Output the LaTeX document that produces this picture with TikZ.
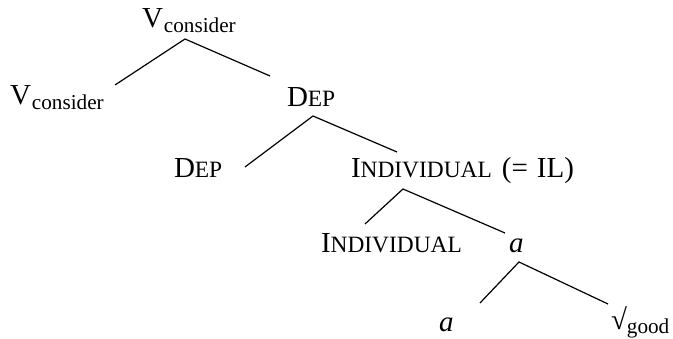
\documentclass[tikz,border=0pt]{standalone}
\usepackage{fontspec}
\setmainfont{Liberation Serif}
\newcommand\bigf{\fontsize{29}{32}\selectfont}
\newcommand\smc[1]{{\fontsize{23.4}{26}\selectfont #1}}
\newcommand\subx[2][5pt]{\raisebox{-#1}{\fontsize{21.2}{23}\selectfont #2}}
\begin{document}
\begin{tikzpicture}[x=1pt,y=1pt,
  lbl/.style={anchor=base west,inner sep=0pt,outer sep=0pt,font=\bigf},
  br/.style={line width=1.2pt}]
\useasboundingbox (0,0) rectangle (673,339);
% labels
\node[lbl] (root) at (142,311) {V\kern1pt\subx{consider}};
\node[lbl] (vl) at (10,234) {V\kern1pt\subx{consider}};
\node[lbl] (dep) at (287,232) {D\smc{EP}};
\node[lbl] (depl) at (174,161) {D\smc{EP}};
\node[lbl] (ind) at (351,161) {I\smc{NDIVIDUAL}\hspace{10pt}(=\hspace{9pt}IL)};
\node[lbl] (indl) at (321,86) {I\smc{NDIVIDUAL}};
\node[lbl] (a) at (509,86) {\itshape a};
\node[lbl] (al) at (439,7) {\itshape a};
\node[lbl] (root2) at (611,9) {√\subx[3.5pt]{good}};
% branch points
\coordinate (r0) at (185,300);
\coordinate (r1) at (115,254);
\coordinate (r2) at (270,263);
\coordinate (d0) at (313,223);
\coordinate (d1) at (245,172);
\coordinate (d2) at (397,187);
\coordinate (i0) at (403,150);
\coordinate (i1) at (365,115);
\coordinate (i2) at (505,106);
\coordinate (a0) at (519,77);
\coordinate (a1) at (480,36);
\coordinate (a2) at (608,35);
\draw[br] (r1) -- (r0) -- (r2);
\draw[br] (d1) -- (d0) -- (d2);
\draw[br] (i1) -- (i0) -- (i2);
\draw[br] (a1) -- (a0) -- (a2);
\end{tikzpicture}
\end{document}
